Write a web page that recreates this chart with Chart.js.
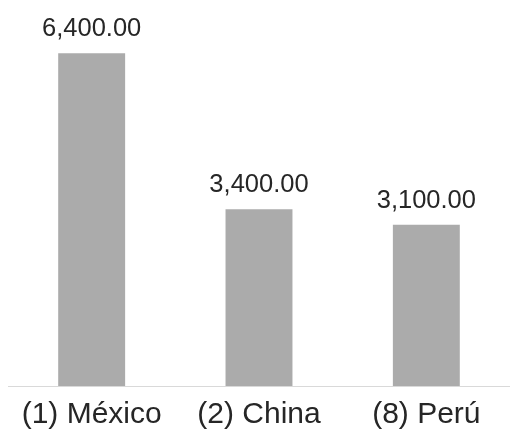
<!DOCTYPE html>
<html>
<head>
<meta charset="utf-8">
<script src="https://cdn.jsdelivr.net/npm/chart.js@4"></script>
<style>
  body { margin: 0; background: #fff; }
  canvas { display: block; }
</style>
</head>
<body>
<canvas id="countryChart" width="510" height="437"></canvas>
<script>
// data
var countries = ['(1) México', '(2) China', '(8) Perú'];
var amounts = [6400, 3400, 3100];

// draws the value over each bar, like the original labels
var valueLabels = {
    id: 'valueLabels',
    afterDatasetsDraw: function(chart) {
        var ctx = chart.ctx;
        var meta = chart.getDatasetMeta(0);
        ctx.save();
        ctx.font = '25.5px "Liberation Sans", Arial, sans-serif';
        ctx.fillStyle = '#262626';
        ctx.textAlign = 'center';
        ctx.textBaseline = 'alphabetic';
        meta.data.forEach(function(bar, i) {
            var text = amounts[i].toLocaleString('en-US', {minimumFractionDigits: 2, maximumFractionDigits: 2});
            ctx.fillText(text, bar.x, bar.y - 17);
        });
        ctx.restore();
    }
};

var countryChart = new Chart(document.getElementById('countryChart').getContext('2d'), {
    type: 'bar',
    data: {
        labels: countries,
        datasets: [{
            data: amounts,
            backgroundColor: '#ababab',
            borderWidth: 0,
            categoryPercentage: 1,
            barPercentage: 0.4
        }]
    },
    options: {
        responsive: false,
        devicePixelRatio: 1,
        animation: false,
        layout: { padding: { top: 22, left: 8, right: 0, bottom: 1 } },
        plugins: { legend: { display: false }, tooltip: { enabled: false } },
        scales: {
            x: {
                grid: { display: false },
                border: { display: true, color: '#d9d9d9', width: 1 },
                ticks: {
                    color: '#262626',
                    padding: 6,
                    font: { family: '"Liberation Sans", Arial, sans-serif', size: 30, lineHeight: 1 }
                }
            },
            y: {
                display: false,
                min: 0,
                max: 7000
            }
        }
    },
    plugins: [valueLabels]
});
</script>
</body>
</html>
